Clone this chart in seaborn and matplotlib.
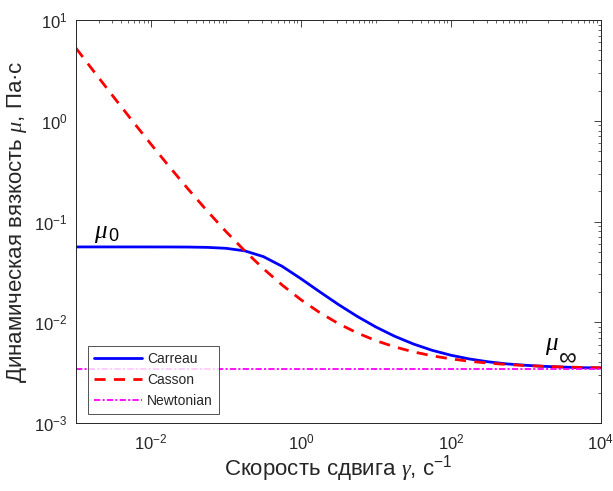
import numpy as np
import pandas as pd
import matplotlib
matplotlib.use("Agg")
import matplotlib.pyplot as plt
import matplotlib.ticker as mticker
import seaborn as sns

# ---- data ----
shear_rate = [0.001, 0.0017783, 0.0031623, 0.0056234, 0.01, 0.017783, 0.031623,
              0.056234, 0.1, 0.17783, 0.31623, 0.56234, 1, 1.7783, 3.1623, 5.6234,
              10, 17.783, 31.623, 56.234, 100, 177.83, 316.23, 562.34, 1000,
              1778.3, 3162.3, 5623.4, 10000]
carreau = [0.0560, 0.0560, 0.0560, 0.05599, 0.05598, 0.05594, 0.05582, 0.05543,
           0.05427, 0.0512, 0.04486, 0.03593, 0.0271, 0.0201, 0.01502, 0.01146,
           0.00898, 0.00727, 0.00609, 0.00527, 0.00471, 0.00432, 0.00405, 0.00386,
           0.00374, 0.00365, 0.00359, 0.00354, 0.00352]
casson = [5.266, 3.012, 1.732, 1.003, 0.5865, 0.3469, 0.2083, 0.1274, 0.07972,
          0.05127, 0.03403, 0.02342, 0.01676, 0.01249, 0.009703, 0.007843,
          0.006577, 0.005701, 0.005085, 0.004647, 0.004331, 0.004101, 0.003933,
          0.003809, 0.003718, 0.00365, 0.003599, 0.003562, 0.003534]
newton_rate = [0.001, 10000]
newtonian = [0.00345, 0.00345]

series_names = ["Carreau", "Casson", "Newtonian"]
mu_sym = r"$\mathit{\mu}$"
mu0_sub = "0"
muinf_sub = "∞"
xlabel = r"Скорость сдвига $\mathit{\gamma}$, с$^{-1}$"
ylabel = r"Динамическая вязкость $\mathit{\mu}$, Па·с"

sns.set_style("white")
plt.rcParams["font.family"] = ["Liberation Sans", "DejaVu Sans"]
plt.rcParams["mathtext.fontset"] = "custom"
plt.rcParams["mathtext.rm"] = "Liberation Sans"
plt.rcParams["mathtext.it"] = "Liberation Serif:italic"
plt.rcParams["mathtext.default"] = "regular"

df_c = pd.DataFrame({"rate": shear_rate, "mu": carreau})
df_k = pd.DataFrame({"rate": shear_rate, "mu": casson})
df_n = pd.DataFrame({"rate": newton_rate, "mu": newtonian})

fig = plt.figure(figsize=(6.13, 4.91), dpi=100)
ax = fig.add_axes([0.124, 0.1385, 0.856, 0.8205])

sns.lineplot(data=df_c, x="rate", y="mu", ax=ax, color="#0000FF", lw=2.0,
             label=series_names[0])
sns.lineplot(data=df_k, x="rate", y="mu", ax=ax, color="#FF0000", lw=2.0,
             label=series_names[1])
ax.lines[-1].set_dashes((4, 3))
sns.lineplot(data=df_n, x="rate", y="mu", ax=ax, color="#FF00FF", lw=1.3,
             label=series_names[2])
ax.lines[-1].set_dashes((3.5, 1.2, 1.2, 1.2))

ax.set_xscale("log")
ax.set_yscale("log")
ax.set_xlim(1e-3, 1e4)
ax.set_ylim(1e-3, 1e1)

ax.xaxis.set_major_locator(mticker.FixedLocator([1e-2, 1e0, 1e2, 1e4]))
ax.xaxis.set_minor_locator(mticker.LogLocator(base=10, subs=np.arange(1, 10), numticks=50))
ax.yaxis.set_major_locator(mticker.LogLocator(base=10, numticks=20))
ax.yaxis.set_minor_locator(mticker.LogLocator(base=10, subs=np.arange(2, 10), numticks=50))
ax.xaxis.set_major_formatter(mticker.LogFormatterSciNotation())
ax.yaxis.set_major_formatter(mticker.LogFormatterSciNotation())
ax.xaxis.set_minor_formatter(mticker.NullFormatter())
ax.yaxis.set_minor_formatter(mticker.NullFormatter())

ax.tick_params(which="both", direction="in", top=True, right=True,
               color="#262626", labelcolor="#262626", labelsize=12)
ax.tick_params(which="major", length=5, width=0.6)
ax.tick_params(which="minor", length=2.5, width=0.5)
ax.tick_params(axis="x", which="major", pad=7)
ax.tick_params(axis="y", which="major", pad=6)
for s in ax.spines.values():
    s.set_color("#262626")
    s.set_linewidth(0.7)

ax.set_xlabel(xlabel, fontsize=16, color="#262626", labelpad=0)
ax.set_ylabel(ylabel, fontsize=16, color="#262626", labelpad=4)

# mu_0 annotation
ax.text(0.00175, 0.0690, mu_sym, fontsize=18, ha="left", va="baseline", color="black")
ax.text(0.00272, 0.0636, mu0_sub, fontsize=13, ha="left", va="baseline", color="black")
# mu_inf annotation
ax.text(1800, 0.00530, mu_sym, fontsize=18, ha="left", va="baseline", color="black")
ax.text(2800, 0.00386, muinf_sub, fontsize=18, ha="left", va="baseline", color="#1a1a1a",
        fontweight="light")

leg = ax.legend(loc="lower left", bbox_to_anchor=(0.023, 0.022), borderaxespad=0,
                fontsize=10, frameon=True, fancybox=False, edgecolor="#262626",
                handlelength=3.4, borderpad=0.45, labelspacing=0.5,
                handletextpad=0.4)
leg.get_frame().set_linewidth(0.7)

fig.savefig("out.png", dpi=100)
